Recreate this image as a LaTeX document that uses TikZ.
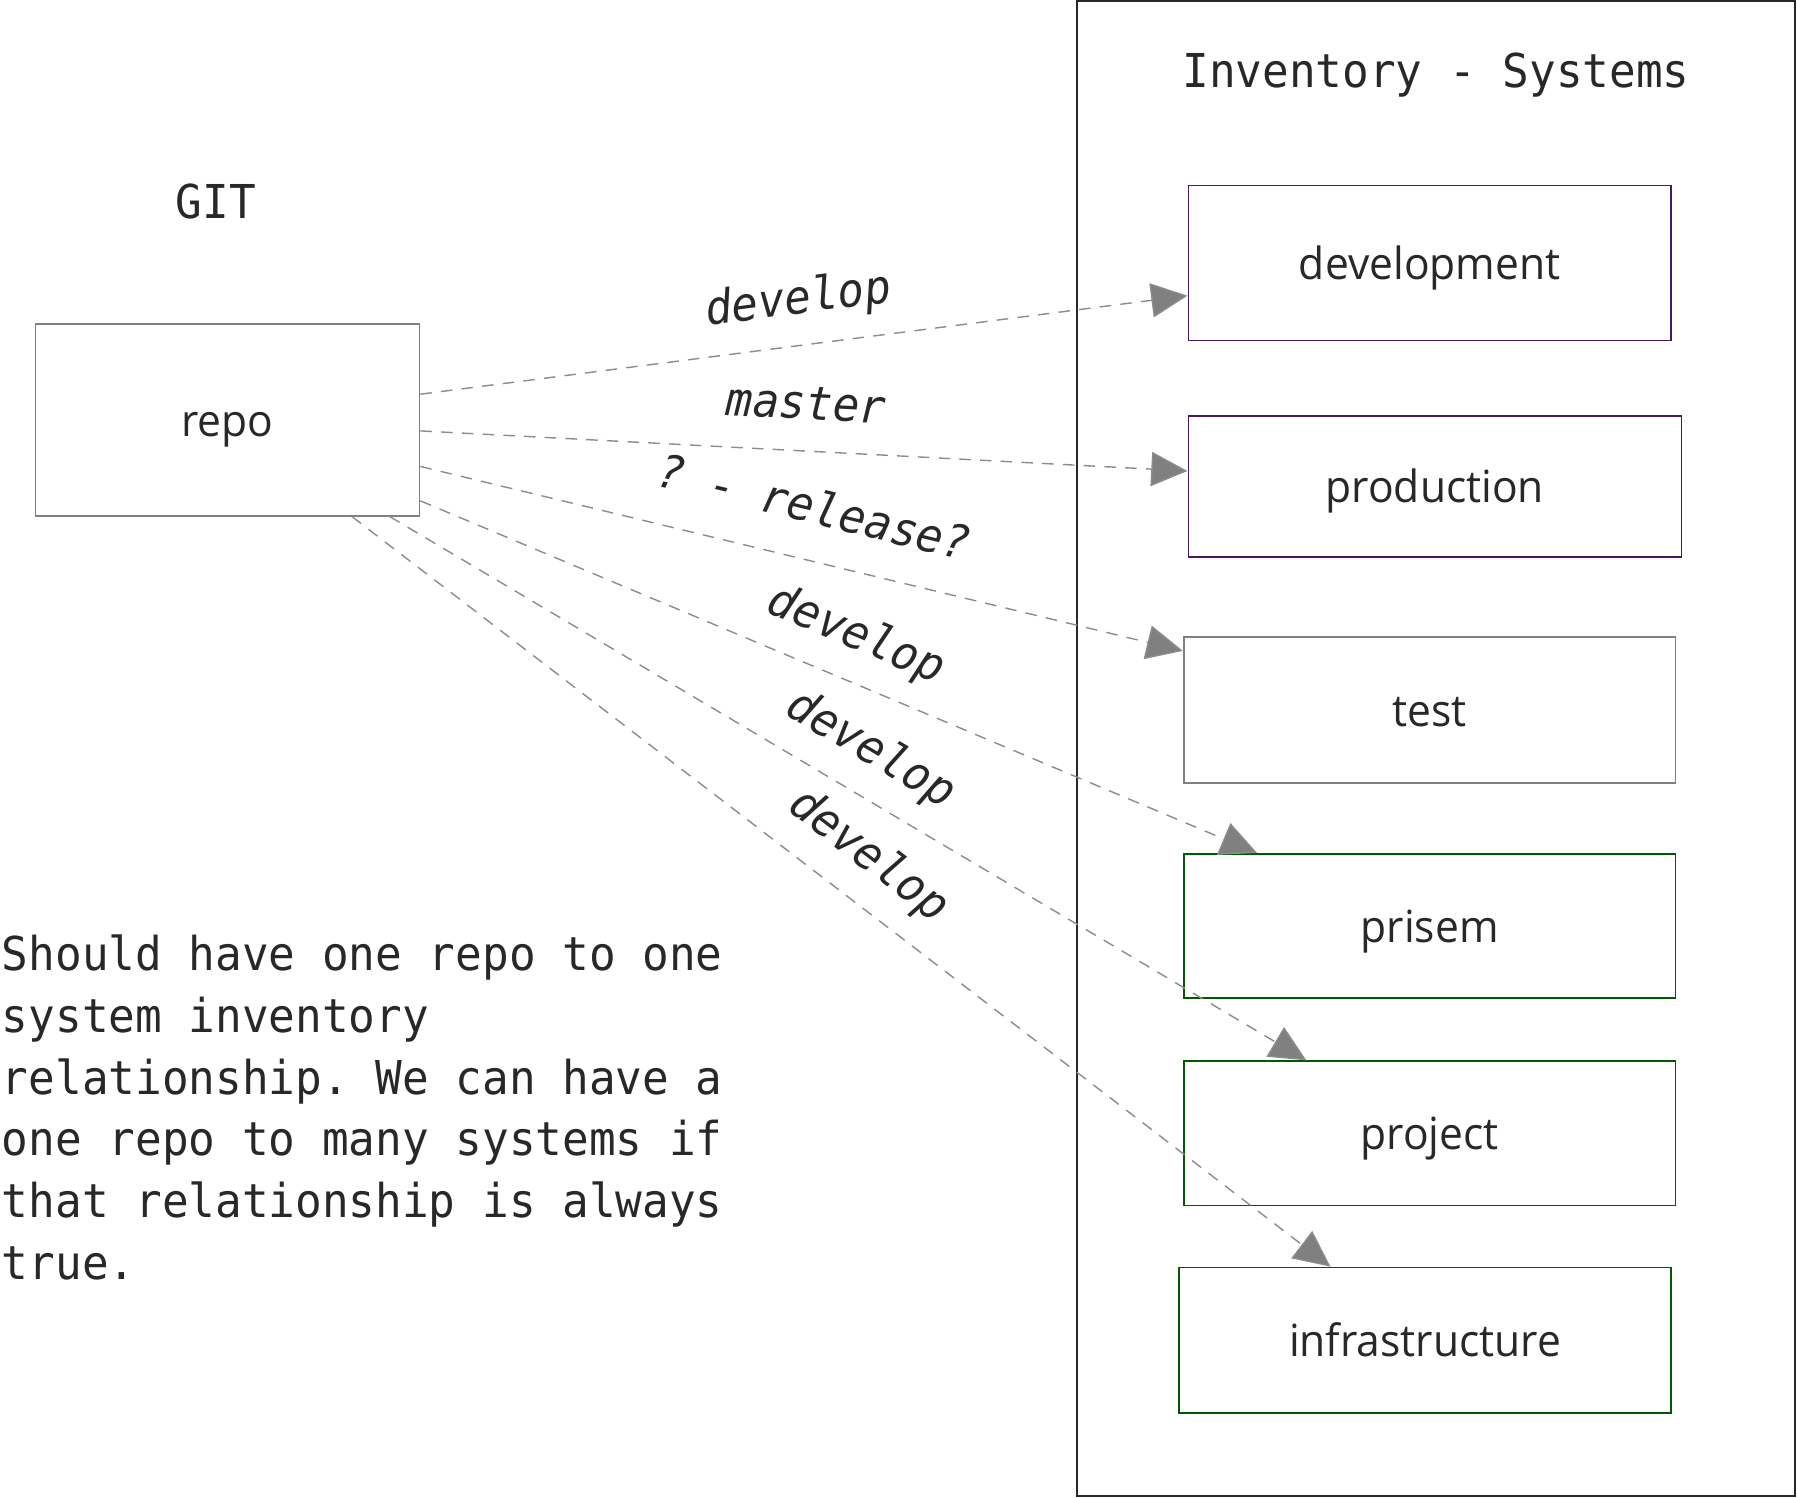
\documentclass[tikz,border=0pt]{standalone}
\usepackage{fontspec}
\setmonofont{DejaVu Sans Mono}[FakeStretch=0.95]
\newfontfamily\boxfont{Open Sans}[FakeStretch=0.96]
\usepackage{tikz}
\usetikzlibrary{arrows.meta}
\definecolor{ink}{RGB}{40,40,40}
\definecolor{EdgeGray}{RGB}{128,128,128}
\definecolor{DashGray}{RGB}{140,140,140}
\definecolor{DarkPurple}{RGB}{72,24,96}
\definecolor{DarkGreen}{RGB}{0,88,0}

\begin{document}
\begin{tikzpicture}[x=0.01cm, y=-0.01cm,
      every node/.append style={text=ink},
      box/.style={draw=EdgeGray, line width=0.4pt, minimum width=4.29cm, minimum height=1.27cm,
        font=\boxfont\fontsize{11}{13}\selectfont, text height=10.4pt, text depth=2.4pt},
      conn/.style={DashGray, line width=0.35pt, dash pattern=on 2.85pt off 2.3pt,
        -{Triangle[length=9pt,width=8.5pt,fill=EdgeGray]}},
      lbl/.style={sloped, inner sep=0pt, text height=8.7pt, text depth=2.9pt,
        font=\ttfamily\itshape\fontsize{11.58}{14}\selectfont}]
    \tikzstyle{title} = [inner sep=0pt, font=\ttfamily\fontsize{11.58}{14}\selectfont]
    \useasboundingbox (0,0) rectangle (1568,1307);
    \node (inventory) [draw=ink, line width=0.45pt, inner sep=0pt,
      minimum width=6.26cm, minimum height=13.04cm] at (1253,653) {};
    \node (systems_title) [title, anchor=base] at (1253,76) {Inventory - Systems};
    \node (git) [title, anchor=base] at (188.5,191) {GIT};
    \node (repo) [box, minimum width=3.35cm, minimum height=1.67cm] at (198.5,366.5) {repo};
    \node (development) [box, draw=DarkPurple, minimum width=4.21cm, minimum height=1.35cm] at (1247.5,229.5) {development};
    \node (production) [box, draw=DarkPurple, minimum width=4.30cm, minimum height=1.23cm] at (1252,424.5) {production};
    \node (test) [box] at (1247.5,619.5) {test};
    \node (prisem) [box, draw=DarkGreen, minimum height=1.26cm] at (1247.5,808) {prisem};
    \node (project) [box, draw=DarkGreen, minimum height=1.26cm] at (1247.5,989) {project};
    \node (infrastructure) [box, draw=DarkGreen] at (1243.5,1169.5) {infrastructure};
    \node (note) [anchor=base west, inner sep=0pt] at (1,846.5)
      {\parbox[t]{7cm}{\ttfamily\fontsize{11.58}{15.37}\selectfont
        Should have one repo to one\\
        system inventory\\
        relationship. We can have a\\
        one repo to many systems if\\
        that relationship is always\\
        true.}};
    \draw[conn] ([yshift=0.225cm]repo.east) to node [lbl, above=0.168cm] {develop} ([yshift=-0.285cm]development.west);
    \draw[conn] ([yshift=-0.095cm]repo.east) to node [lbl, above=0.168cm] {master} ([yshift=0.135cm]production.west);
    \draw[conn] ([yshift=-0.405cm]repo.east) to node [lbl, above=0.21cm] {? - release?} ([yshift=0.515cm]test.west);
    \draw[conn] ([yshift=-0.705cm]repo.east) to node [lbl, above=0.168cm] {develop} ([xshift=-1.505cm]prisem.north);
    \draw[conn] ([xshift=1.415cm]repo.south) to node [lbl, above=0.168cm] {develop} ([xshift=-1.075cm]project.north);
    \draw[conn] ([xshift=1.085cm]repo.south) to node [lbl, above=0.168cm] {develop} ([xshift=-0.825cm]infrastructure.north);
  \end{tikzpicture}
\end{document}
